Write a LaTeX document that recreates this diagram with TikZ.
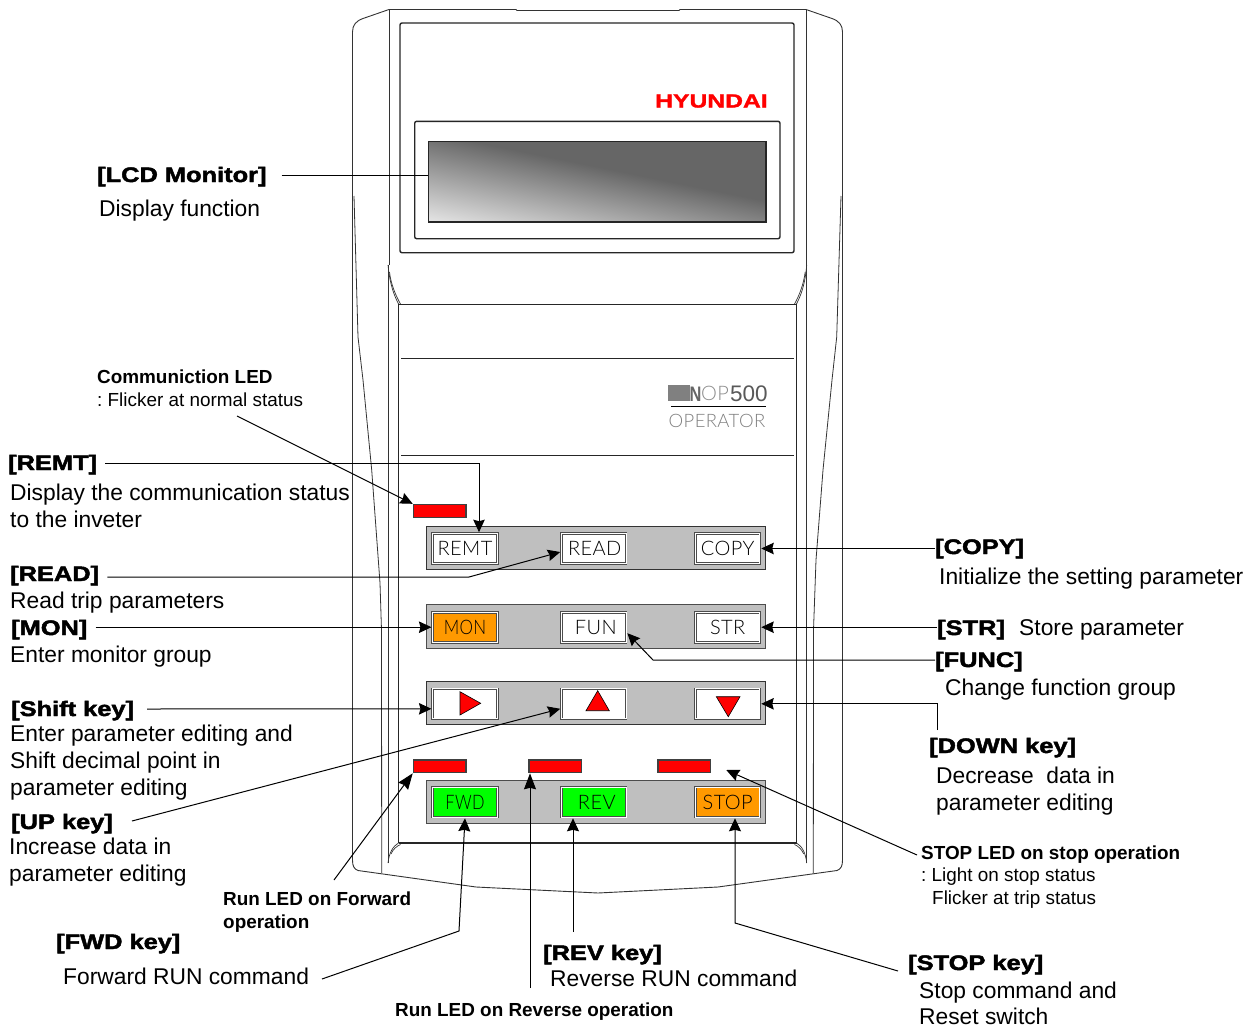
\documentclass[tikz,border=0pt]{standalone}
\usepackage{fontspec}
\usetikzlibrary{arrows.meta,calc}
\setmainfont{Liberation Sans}
\newfontfamily\headf[FakeStretch=1.21,FakeBold=2.2]{Liberation Sans Bold}
\newfontfamily\boldf{Liberation Sans Bold}
\newfontfamily\logof[FakeStretch=1.3,FakeBold=1.6]{Liberation Sans Bold}
\newfontfamily\btnf[LetterSpace=2]{Lato Light}
\definecolor{ln}{HTML}{333333}
\definecolor{orangekey}{HTML}{FF9900}
\frenchspacing
\begin{document}
\begin{tikzpicture}[x=1pt,y=-1pt,
  body/.style={anchor=base west,inner sep=0,align=left,font=\fontsize{22.8}{27}\selectfont},
  small/.style={anchor=base west,inner sep=0,align=left,font=\fontsize{18.9}{22.5}\selectfont},
  smallb/.style={anchor=base west,inner sep=0,align=left,font=\boldf\fontsize{18.9}{23}\selectfont},
  head/.style={anchor=base west,inner sep=0,font=\headf\fontsize{21}{25}\selectfont},
  shell/.style={draw=ln,line width=.9pt},
  thickshell/.style={draw=black!85,line width=1.4pt,rounded corners=2pt},
  panelbar/.style={draw=ln,line width=1pt,fill=black!25,minimum width=339,minimum height=43.4,inner sep=0,outer sep=0},
  keybtn/.style={draw=black!70,line width=.8pt,double=white,double distance=1pt,minimum width=64.5,minimum height=30,inner sep=0,outer sep=1.3pt,
     font=\btnf\fontsize{20}{20}\selectfont,text height=14.3pt,text depth=0pt},
  ledbar/.style={draw=black!75,line width=1.3pt,fill=red,minimum width=52.7,minimum height=12.7,inner sep=0,outer sep=.65pt},
  conn/.style={draw=black,line width=1pt},
  arr/.style={conn,-{Stealth[length=12.5pt,width=11.5pt,inset=1.5pt]}},
  midarr/.style={conn,-{Stealth[length=13pt,width=12pt,inset=1.5pt]}},
  bigarr/.style={conn,-{Stealth[length=16pt,width=12pt,inset=1.5pt]}},
  tri/.style={draw=black,line width=.6pt,fill=red}]
\useasboundingbox (0,0) rectangle (1253,1028);
\fill[white] (0,0) rectangle (1253,1028);

% casing
\draw[shell] (389,9.5) -- (516,9.5) -- (517,10.5) -- (679,10.5) -- (680,9.5) -- (806,9.5)
  -- (832,18.5) .. controls (839,21) and (842.5,25) .. (842.5,32) -- (842.5,860)
  .. controls (842.5,866) and (841,869) .. (837,870.5) -- (718,887) -- (598,893) -- (476,887) -- (358,870.5)
  .. controls (354,869) and (352.5,866) .. (352.5,860) -- (352.5,32)
  .. controls (352.5,25) and (356,21) .. (363,18.5) -- cycle;
\draw[shell] (389,9.5) -- (389,265);
\draw[shell] (806,9.5) -- (806,265);
\draw[shell] (388,265) -- (388,863);
\draw[shell] (806.7,265) -- (806.7,863);
\draw[shell,line width=.8pt] (354,196) -- (358,337) -- (363,380) -- (371.7,470) -- (380,583) -- (381.5,630) -- (381.7,873);
\draw[shell,line width=.8pt] (841,196) -- (836.7,337) -- (832,380) -- (823,470) -- (816,560) -- (813.5,630) -- (813.3,873);
% chamfers
\draw[shell,line width=.7pt] (388,265) .. controls (390,285) and (394,295) .. (398.5,304);
\draw[shell,line width=.7pt] (389.5,272) .. controls (391,285) and (396,296) .. (400.5,304);
\draw[shell,line width=.7pt] (806.7,265) .. controls (805,285) and (801,295) .. (796.5,304);
\draw[shell,line width=.7pt] (805.2,272) .. controls (803.5,285) and (799,296) .. (794.5,304);
\draw[shell,line width=.7pt] (388,863) .. controls (389,853) and (393,846) .. (398.5,843);
\draw[shell,line width=.7pt] (391,854) .. controls (393,849) and (397,846) .. (400.5,844.5);
\draw[shell,line width=.7pt] (806.7,863) .. controls (805.7,853) and (802,846) .. (796.5,843);
\draw[shell,line width=.7pt] (803.7,854) .. controls (801.7,849) and (798,846) .. (794.5,844.5);
% lower face
\draw[draw=black!85,line width=1pt] (398.5,843) -- (398.5,304) -- (796.5,304) -- (796.5,843);
\draw[draw=black!85,line width=1.5pt] (398.5,843) -- (796.5,843);
\draw[draw=black!85,line width=.9pt] (401,358) -- (794,358);
\draw[draw=black!85,line width=.9pt] (401,455.5) -- (794,455.5);

% display
\draw[thickshell] (400,23) rectangle (794,252.7);
\draw[thickshell] (414.7,121.3) rectangle (780,238.7);
\begin{scope}
  \clip (428.3,141.3) rectangle (766,222);
  \fill[black!60] (428.3,141.3) rectangle (766,222);
  \shade[transform canvas={rotate around={-11.5:(428.3pt,-222pt)}},bottom color=black!10,top color=black!60]
     (100,222) rectangle (1100,134);
\end{scope}
\node[draw=black!85,line width=1.1pt,minimum width=337.7,minimum height=80.7,inner sep=0,outer sep=0] (lcd) at (597.15,181.65) {};
\node[anchor=base west,inner sep=0,text=red,font=\logof\fontsize{19}{19}\selectfont] (logo) at (655,107.5) {HYUNDAI};

% operator mark
\fill[black!50] (668,385) rectangle (690,401);
\node[anchor=base west,inner sep=0,text=black!60,font=\boldf\fontsize{21}{21}\selectfont] (markN) at (689.5,401) {\scalebox{.78}[1]{N}};
\node[anchor=base west,inner sep=0,text=black!45,font=\btnf\fontsize{20}{20}\selectfont] (markOP) at (701,400) {OP};
\node[anchor=base west,inner sep=0,text=black!65,font=\fontsize{22.5}{22}\selectfont] (mark5) at (730,401) {500};
\draw[black,line width=.8pt] (671,406) -- (766,406);
\node[anchor=base west,inner sep=0,text=black!50,font=\btnf\fontsize{18.5}{18.5}\selectfont] (markOPER) at (668.5,427) {OPERATOR};

% panels
\node[panelbar] (pa) at (596,548) {};
\node[panelbar,draw=black!70] (pb) at (596,626.5) {};
\node[panelbar,minimum height=42.7] (pc) at (596,703.3) {};
\node[panelbar,draw=black!70] (pd) at (596,801.7) {};

% keys
\node[keybtn,fill=white] (bREMT) at (465,548.5) {REMT};
\node[keybtn,fill=white] (bREAD) at (593.8,548.5) {\hspace{2pt}READ};
\node[keybtn,fill=white] (bCOPY) at (727.7,548.5) {COPY};
\node[keybtn,fill=orangekey] (bMON) at (465,627.2) {\scalebox{.85}[1]{MON}};
\node[keybtn,fill=white] (bFUN) at (593.8,627.2) {\hspace{4pt}FUN};
\node[keybtn,fill=white] (bSTR) at (727.7,627.2) {\hspace{0pt}STR\hspace{4pt}};
\node[keybtn,fill=white] (bSHIFT) at (465,703.8) {};
\node[keybtn,fill=white] (bUP) at (593.8,703.8) {};
\node[keybtn,fill=white] (bDOWN) at (727.7,703.8) {};
\node[keybtn,fill=green] (bFWD) at (465,802) {\scalebox{.82}[1]{FWD}};
\node[keybtn,fill=green] (bREV) at (593.8,802) {\hspace{6pt}REV};
\node[keybtn,fill=orangekey] (bSTOP) at (727.7,802) {STOP\hspace{3pt}};
\path[tri] (460,691.7) -- (460,715) -- (480.7,703.3) -- cycle;
\path[tri] (586,710.7) -- (609.3,710.7) -- (597.7,690.7) -- cycle;
\path[tri] (716.3,696.7) -- (740,696.7) -- (728.3,716.7) -- cycle;

% LEDs
\node[ledbar] (ledC) at (439.7,510.8) {};
\node[ledbar] (ledF) at (439.7,766.3) {};
\node[ledbar] (ledR) at (555.3,766.3) {};
\node[ledbar] (ledS) at (684.3,766.3) {};

% left labels
\node[head] (lLCD) at (97,182) {[LCD Monitor]};
\node[body] (tLCD) at (99,216) {Display function};
\node[smallb] (lComm) at (97,383) {Communiction LED};
\node[small] (tComm) at (97,406) {: Flicker at normal status};
\node[head] (lREMT) at (8,470) {[REMT]};
\node[body] (tREMT) at (10,527) {Display the communication status\\to the inveter};
\node[head] (lREAD) at (10,581) {[READ]};
\node[body] (tREAD) at (10,608) {Read trip parameters};
\node[head] (lMON) at (11,635) {[MON]};
\node[body] (tMON) at (10,662) {Enter monitor group};
\node[head] (lSHIFT) at (11,716) {[Shift key]};
\node[body] (tSHIFT) at (10,795) {Enter parameter editing and\\Shift decimal point in\\parameter editing};
\node[head] (lUP) at (11,829) {[UP key]};
\node[body] (tUP) at (9,881) {Increase data in\\parameter editing};
\node[smallb] (lRunF) at (223,928) {Run LED on Forward\\operation};
\node[head] (lFWD) at (56,949) {[FWD key]};
\node[body] (tFWD) at (63,984) {Forward RUN command};
\node[smallb] (lRunR) at (395,1016) {Run LED on Reverse operation};
\node[head] (lREV) at (543,960) {[REV key]};
\node[body] (tREV) at (550,986) {Reverse RUN command};

% right labels
\node[head] (lCOPY) at (935,554) {[COPY]};
\node[body] (tCOPY) at (939,584) {Initialize the setting parameter};
\node[head] (lSTR) at (937,635) {[STR]};
\node[body] (tSTR) at (1019,635.5) {Store parameter};
\node[head] (lFUNC) at (935,667) {[FUNC]};
\node[body] (tFUNC) at (945,695) {Change function group};
\node[head] (lDOWN) at (929,753) {[DOWN key]};
\node[body] (tDOWN) at (936,810) {Decrease\ \ data in\\parameter editing};
\node[smallb] (lStopL) at (921,859) {STOP LED on stop operation};
\node[small] (tStopL) at (921,904) {: Light on stop status\\\hspace*{11pt}Flicker at trip status};
\node[head] (lSTOP) at (908,970) {[STOP key]};
\node[body,font=\fontsize{22.8}{26}\selectfont] (tSTOP) at (919,1024) {Stop command and\\Reset switch};

% connector waypoints and free ends
\coordinate (cComm) at (237,416);
\coordinate (kREAD) at (469,577);
\coordinate (kFUNC) at (653,660);
\coordinate (cDown) at (937,730);
\coordinate (cStopL) at (917,855);
\coordinate (cStop) at (898,971);
\coordinate (kStop) at (735,923);
\coordinate (cRevK) at (573,932);
\coordinate (cRevL) at (530,988);
\coordinate (cFwd) at (322,979);
\coordinate (kFwd) at (459,931);
\coordinate (cRunF) at (334,880);
\coordinate (cUp) at (132,821);

% connectors
\draw[conn] ([xshift=15pt]lLCD.east |- 0,175) -- (lcd.west |- 0,175);
\draw[arr] (cComm) -- (ledC.north west);
\draw[arr] ([xshift=8pt]lREMT.east |- 0,463) -| ([xshift=14pt]bREMT.north);
\draw[arr] ([xshift=8pt]lREAD.east |- kREAD) -- (kREAD) -- ([yshift=-3.5pt]bREAD.west);
\draw[arr] ([xshift=8pt]lMON.east |- bMON.west) -- (bMON.west);
\draw[arr] ([xshift=13pt]lSHIFT.east |- 0,709) -- ([yshift=-5pt]bSHIFT.west);
\draw[arr] (cUp) -- ([yshift=-5pt]bUP.west);
\draw[arr] (lCOPY.west |- bCOPY.east) -- (bCOPY.east);
\draw[arr] (lSTR.west |- bSTR.east) -- (bSTR.east);
\draw[arr] (lFUNC.west |- kFUNC) -- (kFUNC) -- ([yshift=-6pt]bFUN.east);
\draw[arr] (cDown) |- (bDOWN.east);
\draw[midarr] (cStopL) -- ([xshift=15pt,yshift=-3.7pt]ledS.east);
\draw[midarr] (cStop) -- (kStop) -- (kStop |- bSTOP.south);
\draw[midarr] (cRevK) -- (cRevK |- bREV.south);
\draw[bigarr] (cRevL) -- (cRevL |- ledR.south);
\draw[midarr] (cFwd) -- (kFwd) -- (bFWD.south);
\draw[bigarr] (cRunF) -- (ledF.south west);
\end{tikzpicture}
\end{document}
